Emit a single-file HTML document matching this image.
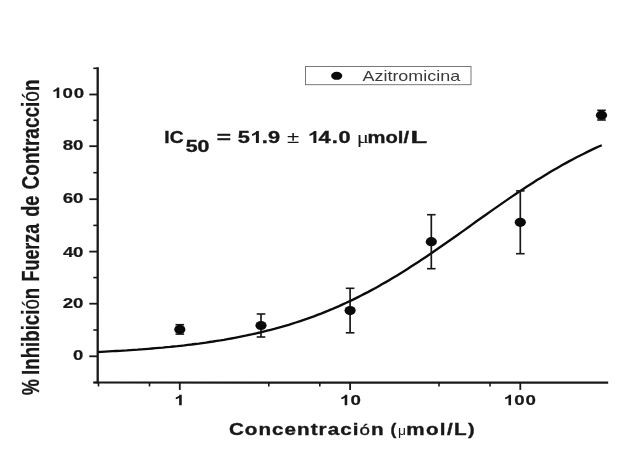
<!DOCTYPE html>
<html><head><meta charset="utf-8"><title>chart</title>
<style>
html,body{margin:0;padding:0;background:#fff;}
body{width:640px;height:461px;overflow:hidden;font-family:"Liberation Sans",sans-serif;}
svg{display:block;filter:blur(0.45px)}
text{font-family:"Liberation Sans",sans-serif;fill:#181818;white-space:pre}
</style></head><body>
<svg width="640" height="461" viewBox="0 0 640 461">
<rect width="640" height="461" fill="#fff"/>
<line x1="97.7" y1="67.3" x2="97.7" y2="383.5" stroke="#181818" stroke-width="2.3"/>
<line x1="93.5" y1="382.5" x2="608.2" y2="382.6" stroke="#181818" stroke-width="2.2"/>
<line x1="93.3" y1="382.5" x2="97.7" y2="382.5" stroke="#181818" stroke-width="1.6"/><line x1="89.3" y1="356.3" x2="97.7" y2="356.3" stroke="#181818" stroke-width="1.8"/><line x1="93.3" y1="330.0" x2="97.7" y2="330.0" stroke="#181818" stroke-width="1.6"/><line x1="89.3" y1="303.7" x2="97.7" y2="303.7" stroke="#181818" stroke-width="1.8"/><line x1="93.3" y1="277.6" x2="97.7" y2="277.6" stroke="#181818" stroke-width="1.6"/><line x1="89.3" y1="251.6" x2="97.7" y2="251.6" stroke="#181818" stroke-width="1.8"/><line x1="93.3" y1="225.4" x2="97.7" y2="225.4" stroke="#181818" stroke-width="1.6"/><line x1="89.3" y1="199.2" x2="97.7" y2="199.2" stroke="#181818" stroke-width="1.8"/><line x1="93.3" y1="172.7" x2="97.7" y2="172.7" stroke="#181818" stroke-width="1.6"/><line x1="89.3" y1="146.2" x2="97.7" y2="146.2" stroke="#181818" stroke-width="1.8"/><line x1="93.3" y1="120.3" x2="97.7" y2="120.3" stroke="#181818" stroke-width="1.6"/><line x1="89.3" y1="94.5" x2="97.7" y2="94.5" stroke="#181818" stroke-width="1.8"/><line x1="93.3" y1="68.3" x2="97.7" y2="68.3" stroke="#181818" stroke-width="1.6"/>
<line x1="179.8" y1="382.5" x2="179.8" y2="389.9" stroke="#181818" stroke-width="1.8"/><line x1="98.5" y1="382.5" x2="98.5" y2="386.4" stroke="#181818" stroke-width="1.6"/><line x1="149.5" y1="382.5" x2="149.5" y2="386.4" stroke="#181818" stroke-width="1.6"/><line x1="350.1" y1="382.5" x2="350.1" y2="389.9" stroke="#181818" stroke-width="1.8"/><line x1="268.8" y1="382.5" x2="268.8" y2="386.4" stroke="#181818" stroke-width="1.6"/><line x1="319.8" y1="382.5" x2="319.8" y2="386.4" stroke="#181818" stroke-width="1.6"/><line x1="520.3" y1="382.5" x2="520.3" y2="389.9" stroke="#181818" stroke-width="1.8"/><line x1="439.0" y1="382.5" x2="439.0" y2="386.4" stroke="#181818" stroke-width="1.6"/><line x1="490.0" y1="382.5" x2="490.0" y2="386.4" stroke="#181818" stroke-width="1.6"/>
<path d="M98.0,352.0 L101.6,351.8 L105.2,351.6 L108.8,351.4 L112.4,351.2 L116.0,351.0 L119.6,350.8 L123.2,350.6 L126.8,350.4 L130.4,350.1 L134.0,349.9 L137.6,349.7 L141.2,349.4 L144.8,349.1 L148.4,348.8 L152.0,348.5 L155.6,348.2 L159.2,347.9 L162.8,347.6 L166.4,347.2 L170.0,346.9 L173.6,346.5 L177.2,346.2 L180.8,345.8 L184.4,345.4 L188.0,344.9 L191.6,344.5 L195.2,344.0 L198.8,343.6 L202.4,343.1 L206.0,342.6 L209.6,342.0 L213.2,341.5 L216.8,340.9 L220.4,340.4 L223.9,339.8 L227.5,339.1 L231.1,338.5 L234.7,337.8 L238.3,337.1 L241.9,336.4 L245.5,335.7 L249.1,334.9 L252.7,334.2 L256.3,333.3 L259.9,332.5 L263.5,331.6 L267.1,330.7 L270.7,329.8 L274.3,328.9 L277.9,327.9 L281.5,326.9 L285.1,325.8 L288.7,324.8 L292.3,323.7 L295.9,322.5 L299.5,321.3 L303.1,320.1 L306.7,318.9 L310.3,317.6 L313.9,316.3 L317.5,314.9 L321.1,313.6 L324.7,312.1 L328.3,310.7 L331.9,309.2 L335.5,307.6 L339.1,306.1 L342.7,304.4 L346.3,302.8 L349.9,301.1 L353.5,299.4 L357.1,297.6 L360.7,295.8 L364.3,293.9 L367.9,292.1 L371.5,290.1 L375.1,288.2 L378.7,286.2 L382.3,284.1 L385.9,282.1 L389.5,280.0 L393.1,277.8 L396.7,275.7 L400.3,273.4 L403.9,271.2 L407.5,268.9 L411.1,266.6 L414.7,264.3 L418.3,262.0 L421.9,259.6 L425.5,257.2 L429.1,254.7 L432.7,252.3 L436.3,249.8 L439.9,247.3 L443.5,244.8 L447.1,242.3 L450.7,239.8 L454.3,237.2 L457.9,234.7 L461.5,232.1 L465.1,229.6 L468.7,227.0 L472.3,224.4 L475.8,221.8 L479.4,219.3 L483.0,216.7 L486.6,214.2 L490.2,211.6 L493.8,209.1 L497.4,206.6 L501.0,204.1 L504.6,201.6 L508.2,199.1 L511.8,196.6 L515.4,194.2 L519.0,191.8 L522.6,189.4 L526.2,187.1 L529.8,184.7 L533.4,182.4 L537.0,180.1 L540.6,177.9 L544.2,175.7 L547.8,173.5 L551.4,171.3 L555.0,169.2 L558.6,167.2 L562.2,165.1 L565.8,163.1 L569.4,161.1 L573.0,159.2 L576.6,157.3 L580.2,155.5 L583.8,153.7 L587.4,151.9 L591.0,150.1 L594.6,148.4 L598.2,146.8 L601.8,145.2" fill="none" stroke="#0c0c0c" stroke-width="2.35" stroke-linejoin="round"/>
<line x1="179.8" y1="324.7" x2="179.8" y2="334.1" stroke="#181818" stroke-width="1.7"/><line x1="175.5" y1="324.7" x2="184.1" y2="324.7" stroke="#181818" stroke-width="1.6"/><line x1="175.5" y1="334.1" x2="184.1" y2="334.1" stroke="#181818" stroke-width="1.6"/><ellipse cx="179.8" cy="329.4" rx="5.6" ry="4.6" fill="#0a0a0a"/>
<line x1="261.0" y1="314.0" x2="261.0" y2="337.0" stroke="#181818" stroke-width="1.7"/><line x1="256.7" y1="314.0" x2="265.3" y2="314.0" stroke="#181818" stroke-width="1.6"/><line x1="256.7" y1="337.0" x2="265.3" y2="337.0" stroke="#181818" stroke-width="1.6"/><ellipse cx="261.0" cy="325.5" rx="5.6" ry="4.6" fill="#0a0a0a"/>
<line x1="350.1" y1="288.3" x2="350.1" y2="332.8" stroke="#181818" stroke-width="1.7"/><line x1="345.8" y1="288.3" x2="354.4" y2="288.3" stroke="#181818" stroke-width="1.6"/><line x1="345.8" y1="332.8" x2="354.4" y2="332.8" stroke="#181818" stroke-width="1.6"/><ellipse cx="350.1" cy="310.6" rx="5.6" ry="4.6" fill="#0a0a0a"/>
<line x1="431.3" y1="214.7" x2="431.3" y2="268.7" stroke="#181818" stroke-width="1.7"/><line x1="427.0" y1="214.7" x2="435.6" y2="214.7" stroke="#181818" stroke-width="1.6"/><line x1="427.0" y1="268.7" x2="435.6" y2="268.7" stroke="#181818" stroke-width="1.6"/><ellipse cx="431.3" cy="241.7" rx="5.6" ry="4.6" fill="#0a0a0a"/>
<line x1="520.3" y1="190.9" x2="520.3" y2="253.7" stroke="#181818" stroke-width="1.7"/><line x1="516.0" y1="190.9" x2="524.6" y2="190.9" stroke="#181818" stroke-width="1.6"/><line x1="516.0" y1="253.7" x2="524.6" y2="253.7" stroke="#181818" stroke-width="1.6"/><ellipse cx="520.3" cy="222.3" rx="5.6" ry="4.6" fill="#0a0a0a"/>
<line x1="601.5" y1="110.3" x2="601.5" y2="120.0" stroke="#181818" stroke-width="1.7"/><line x1="597.2" y1="110.3" x2="605.8" y2="110.3" stroke="#181818" stroke-width="1.6"/><line x1="597.2" y1="120.0" x2="605.8" y2="120.0" stroke="#181818" stroke-width="1.6"/><ellipse cx="601.5" cy="115.2" rx="5.6" ry="4.6" fill="#0a0a0a"/>

<rect x="305.5" y="66.5" width="165.5" height="18.2" fill="#fff" stroke="#6a6a6a" stroke-width="0.9"/>
<ellipse cx="336.7" cy="75.8" rx="5.6" ry="4" fill="#0a0a0a"/>
<g transform="translate(49.07,97.90) scale(1.3000,1)"><path transform="translate(0.000,0) scale(0.00703,-0.00703)" d="M1114 0L833 0L833 1059Q679 915 470 846L470 1101Q580 1137 709 1237.5Q838 1338 886 1472L1114 1472Z" style="fill:#181818"/><text x="10.306" y="0" font-size="14.4" font-weight="bold" style="fill:#181818;stroke:#181818;stroke-width:0.2px">0</text><text x="18.993" y="0" font-size="14.4" font-weight="bold" style="fill:#181818;stroke:#181818;stroke-width:0.2px">0</text></g>
<g transform="translate(62.85,150.40) scale(1.3000,1)"><text x="0.000" y="0" font-size="14.4" font-weight="bold" style="fill:#181818;stroke:#181818;stroke-width:0.2px">8</text><text x="7.747" y="0" font-size="14.4" font-weight="bold" style="fill:#181818;stroke:#181818;stroke-width:0.2px">0</text></g>
<g transform="translate(62.85,203.40) scale(1.3000,1)"><text x="0.000" y="0" font-size="14.4" font-weight="bold" style="fill:#181818;stroke:#181818;stroke-width:0.2px">6</text><text x="7.747" y="0" font-size="14.4" font-weight="bold" style="fill:#181818;stroke:#181818;stroke-width:0.2px">0</text></g>
<g transform="translate(62.97,256.50) scale(1.3000,1)"><text x="0.000" y="0" font-size="14.4" font-weight="bold" style="fill:#181818;stroke:#181818;stroke-width:0.2px">4</text><text x="7.651" y="0" font-size="14.4" font-weight="bold" style="fill:#181818;stroke:#181818;stroke-width:0.2px">0</text></g>
<g transform="translate(62.85,308.40) scale(1.3000,1)"><text x="0.000" y="0" font-size="14.4" font-weight="bold" style="fill:#181818;stroke:#181818;stroke-width:0.2px">2</text><text x="7.747" y="0" font-size="14.4" font-weight="bold" style="fill:#181818;stroke:#181818;stroke-width:0.2px">0</text></g>
<g transform="translate(72.99,360.30) scale(1.2889,1)"><text x="0.000" y="0" font-size="14.4" font-weight="bold" style="fill:#181818;stroke:#181818;stroke-width:0.2px">0</text></g>
<g transform="translate(171.41,405.20) scale(1.3189,1)"><path transform="translate(0.000,0) scale(0.00703,-0.00703)" d="M1114 0L833 0L833 1059Q679 915 470 846L470 1101Q580 1137 709 1237.5Q838 1338 886 1472L1114 1472Z" style="fill:#181818"/></g>
<g transform="translate(337.07,405.20) scale(1.3000,1)"><path transform="translate(0.000,0) scale(0.00703,-0.00703)" d="M1114 0L833 0L833 1059Q679 915 470 846L470 1101Q580 1137 709 1237.5Q838 1338 886 1472L1114 1472Z" style="fill:#181818"/><text x="10.306" y="0" font-size="14.4" font-weight="bold" style="fill:#181818;stroke:#181818;stroke-width:0.2px">0</text></g>
<g transform="translate(500.88,405.20) scale(1.3000,1)"><path transform="translate(0.000,0) scale(0.00703,-0.00703)" d="M1114 0L833 0L833 1059Q679 915 470 846L470 1101Q580 1137 709 1237.5Q838 1338 886 1472L1114 1472Z" style="fill:#181818"/><text x="10.306" y="0" font-size="14.4" font-weight="bold" style="fill:#181818;stroke:#181818;stroke-width:0.2px">0</text><text x="18.993" y="0" font-size="14.4" font-weight="bold" style="fill:#181818;stroke:#181818;stroke-width:0.2px">0</text></g>
<text transform="translate(164.36,143.00) scale(1.1048,1)" font-size="17.4" font-weight="bold" style="fill:#181818;stroke:#181818;stroke-width:0.35px">IC</text>
<text transform="translate(185.75,151.80) scale(1.3022,1)" font-size="16.4" font-weight="bold" style="fill:#181818;stroke:#181818;stroke-width:0.35px">50</text>
<text transform="translate(216.67,143.00) scale(1.4806,1)" font-size="16.5" font-weight="bold" style="fill:#181818;stroke:#181818;stroke-width:0.35px">=</text>
<g transform="translate(237.86,143.10) scale(1.2800,1)"><text x="0.000" y="0" font-size="17.0" font-weight="bold" style="fill:#181818;stroke:#181818;stroke-width:0.35px">5</text><path transform="translate(7.182,0) scale(0.00830,-0.00830)" d="M1114 0L833 0L833 1059Q679 915 470 846L470 1101Q580 1137 709 1237.5Q838 1338 886 1472L1114 1472Z" style="fill:#181818"/><text x="18.634" y="0" font-size="17.0" font-weight="bold" style="fill:#181818;stroke:#181818;stroke-width:0.35px">.</text><text x="23.560" y="0" font-size="17.0" font-weight="bold" style="fill:#181818;stroke:#181818;stroke-width:0.35px">9</text></g>
<text transform="translate(286.93,143.00) scale(1.3500,1)" font-size="16.5" font-weight="normal" style="fill:#181818">±</text>
<g transform="translate(304.54,143.10) scale(1.2800,1)"><path transform="translate(0.000,0) scale(0.00830,-0.00830)" d="M1114 0L833 0L833 1059Q679 915 470 846L470 1101Q580 1137 709 1237.5Q838 1338 886 1472L1114 1472Z" style="fill:#181818"/><text x="10.822" y="0" font-size="17.0" font-weight="bold" style="fill:#181818;stroke:#181818;stroke-width:0.35px">4</text><text x="21.274" y="0" font-size="17.0" font-weight="bold" style="fill:#181818;stroke:#181818;stroke-width:0.35px">.</text><text x="26.450" y="0" font-size="17.0" font-weight="bold" style="fill:#181818;stroke:#181818;stroke-width:0.35px">0</text></g>
<text transform="translate(356.75,143.00) scale(1.3429,1)" font-size="17" font-weight="normal" style="fill:#181818"><tspan font-family="Liberation Serif">μ</tspan></text>
<text transform="translate(367.58,143.00) scale(1.1735,1)" font-size="17.2" font-weight="bold" style="fill:#181818;stroke:#181818;stroke-width:0.35px">mol/</text>
<text transform="translate(410.51,143.00) scale(1.5887,1)" font-size="17.2" font-weight="bold" style="fill:#181818;stroke:#181818;stroke-width:0.35px">L</text>
<text transform="translate(362.50,80.80) scale(1.2546,1)" font-size="14.3" font-weight="normal" style="fill:#3a3a3a">Azitromicina</text>
<text transform="translate(228.92,435.30) scale(1.2500,1)" font-size="16.5" font-weight="bold" style="fill:#181818;letter-spacing:0.830px;stroke:#181818;stroke-width:0.35px">Concentraci<tspan font-weight="normal" font-size="15">ó</tspan>n</text>
<text transform="translate(390.47,435.30) scale(1.0667,1)" font-size="16.5" font-weight="bold" style="fill:#181818;stroke:#181818;stroke-width:0.35px">(</text>
<text transform="translate(397.97,435.30) scale(1.0667,1)" font-size="13" font-weight="normal" style="fill:#181818">μ</text>
<text transform="translate(406.19,435.30) scale(1.2500,1)" font-size="16.5" font-weight="bold" style="fill:#181818;letter-spacing:1.106px;stroke:#181818;stroke-width:0.35px">mol/L</text>
<text transform="translate(468.05,435.30) scale(1.2000,1)" font-size="16.5" font-weight="bold" style="fill:#181818;stroke:#181818;stroke-width:0.35px">)</text>
<text transform="translate(38.6,395.28) rotate(-90) scale(0.7694,1)" font-size="23.5" font-weight="bold" style="fill:#181818;stroke:#181818;stroke-width:0.3px">%</text>
<text transform="translate(38.6,374.89) rotate(-90) scale(0.7944,1)" font-size="23.5" font-weight="bold" style="fill:#181818;stroke:#181818;stroke-width:0.3px">Inhibici<tspan font-weight="normal">ó</tspan>n</text>
<text transform="translate(38.6,281.44) rotate(-90) scale(0.7609,1)" font-size="23.5" font-weight="bold" style="fill:#181818;stroke:#181818;stroke-width:0.3px">Fuerza</text>
<text transform="translate(38.6,216.87) rotate(-90) scale(0.7727,1)" font-size="23.5" font-weight="bold" style="fill:#181818;stroke:#181818;stroke-width:0.3px">de</text>
<text transform="translate(38.6,189.41) rotate(-90) scale(0.8097,1)" font-size="23.5" font-weight="bold" style="fill:#181818;stroke:#181818;stroke-width:0.3px">Contracci<tspan font-weight="normal">ó</tspan>n</text>

</svg>
</body></html>
